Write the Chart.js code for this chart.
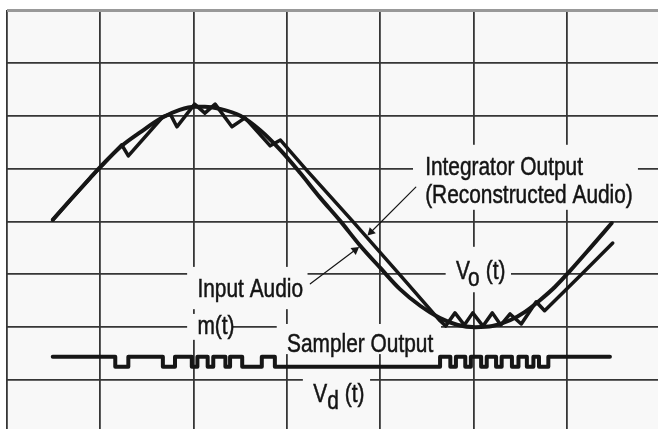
<!DOCTYPE html>
<html>
<head>
<meta charset="utf-8">
<script src="https://cdn.jsdelivr.net/npm/chart.js@4.4.1/dist/chart.umd.min.js"></script>
<style>
  html, body { margin: 0; padding: 0; background: #fff; }
  #wrap { width: 658px; height: 429px; }
</style>
</head>
<body>
<div id="wrap"><canvas id="scope" width="658" height="429"></canvas></div>
<script>
// grid units: 1 column / 1 row of the scope graticule
const xTicks = [0, 1, 2, 3, 4, 5, 6];
const yTicks = [4, 3, 2, 1, 0, -1, -2, -3];

// input audio m(t)
const inT = [0.49, 0.68, 0.89, 1.01, 1.23, 1.43, 1.66, 1.85, 2.01, 2.12, 2.28, 2.50, 2.71, 2.93, 3.14, 3.35,
  3.57, 3.78, 4.00, 4.21, 4.43, 4.64, 4.83, 5.02, 5.20, 5.39, 5.55, 5.71, 5.87, 6.03, 6.25, 6.48];
const inV = [0.03, 0.41, 0.82, 1.05, 1.43, 1.69, 1.96, 2.11, 2.17, 2.17, 2.13, 2.00, 1.73, 1.35, 0.92, 0.46,
  0.01, -0.45, -0.88, -1.28, -1.60, -1.83, -1.96, -2.00, -1.98, -1.87, -1.71, -1.49, -1.24, -0.94, -0.50, -0.03];

// integrator output Vo(t)
const outT = [0.49, 0.89, 1.23, 1.30, 1.67, 1.75, 1.82, 2.01, 2.12, 2.23, 2.41, 2.55, 2.82, 2.93, 3.21, 3.70,
  4.21, 4.64, 4.70, 4.80, 4.90, 4.99, 5.10, 5.20, 5.29, 5.39, 5.51, 5.67, 5.76, 6.14, 6.49];
const outV = [0.03, 0.82, 1.45, 1.24, 1.98, 2.03, 1.79, 2.22, 2.05, 2.22, 1.79, 1.96, 1.43, 1.54, 0.97, 0.01,
  -1.01, -1.88, -1.98, -1.73, -1.96, -1.73, -1.98, -1.73, -1.96, -1.75, -1.94, -1.52, -1.69, -1.03, -0.41];

// sampler output Vd(t): level switches
const hi = -2.56, lo = -2.75;
const pulseT = [0.49, 1.16, 1.30, 1.67, 1.80, 1.98, 2.04, 2.15, 2.21, 2.34, 2.39, 2.52, 2.73, 2.87,
  4.64, 4.75, 4.81, 4.91, 4.97, 5.08, 5.14, 5.24, 5.30, 5.41, 5.48, 5.57, 5.64, 5.70, 5.80, 6.46];
const pulseV = [hi, lo, hi, lo, hi, lo, hi, lo, hi, lo, hi, lo, hi, lo,
  hi, lo, hi, lo, hi, lo, hi, lo, hi, lo, hi, lo, hi, lo, hi, hi];

// leader arrows
const arrowInT = [3.25, 3.73];
const arrowInV = [-1.18, -0.54];
const arrowOutT = [4.38, 3.90];
const arrowOutV = [0.65, -0.20];

const notes = [
  { text: 'Integrator Output', x: 4.48, y: 0.88 },
  { text: '(Reconstructed Audio)', x: 4.48, y: 0.35 },
  { text: 'Input Audio', x: 2.04, y: -1.43 },
  { text: 'm(t)', x: 2.04, y: -2.13 },
  { text: 'Sampler Output', x: 3.00, y: -2.47 },
  { text: 'V', x: 3.28, y: -3.42 },
  { text: 'd', x: 3.43, y: -3.55 },
  { text: '(t)', x: 3.62, y: -3.42 },
  { text: 'V', x: 4.81, y: -1.09 },
  { text: 'o', x: 4.94, y: -1.22 },
  { text: '(t)', x: 5.13, y: -1.09 }
];
// areas where the graticule is blanked behind the labels [x0, x1, y0, y1]
const masks = [
  [4.35, 6.76, 1.45, 0.22],
  [1.93, 3.22, -0.86, -1.66],
  [1.93, 2.42, -1.75, -2.24],
  [2.89, 4.65, -1.94, -2.51],
  [3.17, 3.89, -2.85, -3.68],
  [4.70, 5.40, -0.48, -1.34]
];

const pts = (t, v) => t.map((x, i) => ({ x, y: v[i] }));

const scopeDecor = {
  id: 'scopeDecor',
  beforeDraw(chart) {
    const { ctx, chartArea: a } = chart;
    ctx.save();
    ctx.fillStyle = '#ffffff';
    ctx.fillRect(0, 0, chart.width, chart.height);
    ctx.fillStyle = '#f8f8f8';
    ctx.fillRect(a.left, a.top, a.right - a.left, a.bottom - a.top);
    ctx.restore();
  },
  beforeDatasetsDraw(chart) {
    const { ctx, scales: { x, y } } = chart;
    ctx.save();
    ctx.fillStyle = '#f8f8f8';
    masks.forEach(([x0, x1, y0, y1]) => {
      const l = x.getPixelForValue(x0), r = x.getPixelForValue(x1);
      const t = y.getPixelForValue(y0), b = y.getPixelForValue(y1);
      ctx.fillRect(l, t, r - l, b - t);
    });
    ctx.fillStyle = '#141414';
    ctx.strokeStyle = '#141414';
    ctx.lineWidth = 0.5;
    ctx.font = '25px "Liberation Sans", Arial, sans-serif';
    ctx.textBaseline = 'alphabetic';
    notes.forEach(n => {
      ctx.save();
      ctx.translate(x.getPixelForValue(n.x), y.getPixelForValue(n.y));
      ctx.scale(0.835, 1);
      ctx.fillText(n.text, 0, 0);
      ctx.strokeText(n.text, 0, 0);
      ctx.restore();
    });
    ctx.restore();
  }
};

const ink = '#161616';

new Chart(document.getElementById('scope'), {
  type: 'line',
  data: {
    datasets: [
      {
        label: 'arrow in',
        data: pts(arrowInT, arrowInV),
        borderColor: ink, borderWidth: 1.2,
        pointRadius: [0, 5], pointStyle: 'triangle', pointRotation: 53,
        pointBackgroundColor: ink, pointBorderColor: ink, pointBorderWidth: 0
      },
      {
        label: 'arrow out',
        data: pts(arrowOutT, arrowOutV),
        borderColor: ink, borderWidth: 1.2,
        pointRadius: [0, 5], pointStyle: 'triangle', pointRotation: 225,
        pointBackgroundColor: ink, pointBorderColor: ink, pointBorderWidth: 0
      },
      {
        label: 'Sampler Output',
        data: pts(pulseT, pulseV),
        stepped: true,
        borderColor: ink, borderWidth: 4,
        pointRadius: 0
      },
      {
        label: 'Input Audio',
        data: pts(inT, inV),
        cubicInterpolationMode: 'monotone',
        borderColor: ink, borderWidth: 4,
        pointRadius: 0
      },
      {
        label: 'Integrator Output',
        data: pts(outT, outV),
        tension: 0,
        borderColor: ink, borderWidth: 3.5,
        pointRadius: 0
      }
    ]
  },
  options: {
    responsive: false,
    animation: false,
    layout: { autoPadding: false, padding: { left: 7, top: 10, right: 0, bottom: 0 } },
    elements: { line: { borderCapStyle: 'round', borderJoinStyle: 'round' } },
    plugins: { legend: { display: false }, tooltip: { enabled: false } },
    scales: {
      x: {
        type: 'linear',
        min: 0,
        max: 6.975,
        afterBuildTicks: s => { s.ticks = xTicks.map(value => ({ value })); },
        ticks: { display: false },
        border: { display: false },
        grid: { color: '#363636', lineWidth: 1.8, drawTicks: false }
      },
      y: {
        type: 'linear',
        min: -3.927,
        max: 4,
        afterBuildTicks: s => { s.ticks = yTicks.map(value => ({ value })); },
        ticks: { display: false },
        border: { display: false },
        grid: {
          color: c => (c.tick && c.tick.value === 4 ? '#999999' : '#363636'),
          lineWidth: c => (c.tick && c.tick.value === 4 ? 3 : 1.8),
          drawTicks: false
        }
      }
    }
  },
  plugins: [scopeDecor]
});
</script>
</body>
</html>
